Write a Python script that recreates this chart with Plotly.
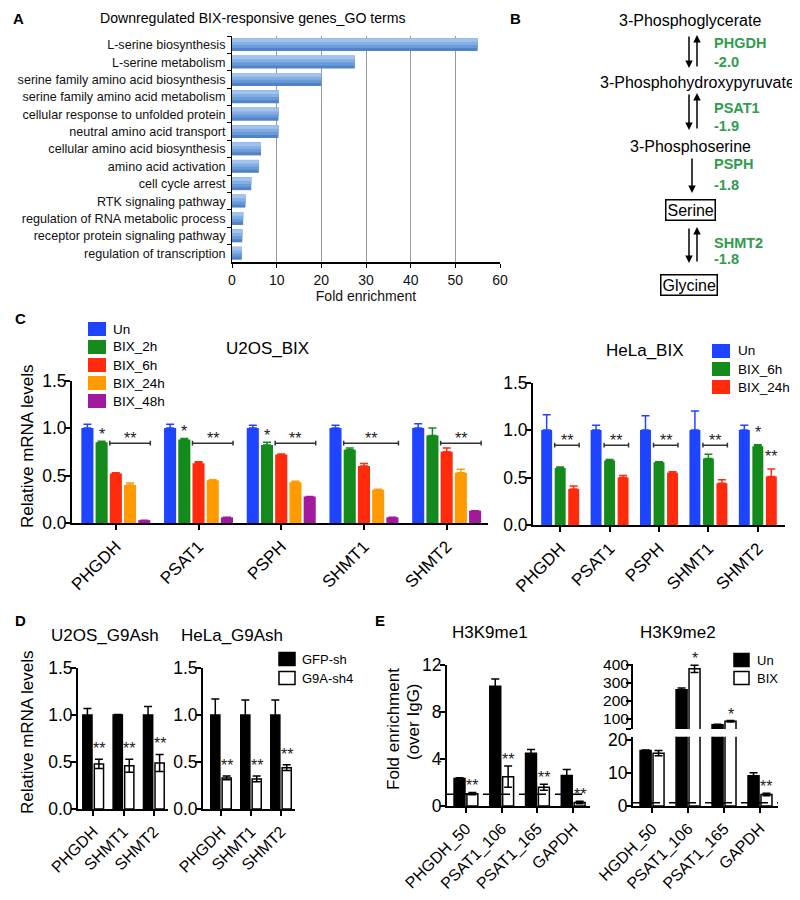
import plotly.graph_objects as go

# page body has an 8px margin: map reference pixels to figure fractions
OFF = 8
W, H = 800 - OFF, 900 - OFF
FONT = "Liberation Sans, Arial, Helvetica, sans-serif"


def X(px):
    return (px - OFF) / W


def Y(py):
    return 1 - (py - OFF) / H


# ---------------- data ----------------
go_terms = ["L-serine biosynthesis", "L-serine metabolism",
            "serine family amino acid biosynthesis",
            "serine family amino acid metabolism",
            "cellular response to unfolded protein",
            "neutral amino acid transport", "cellular amino acid biosynthesis",
            "amino acid activation", "cell cycle arrest", "RTK signaling pathway",
            "regulation of RNA metabolic process",
            "receptor protein signaling pathway", "regulation of transcription"]
go_fold = [55.0, 27.5, 20.0, 10.5, 10.4, 10.4, 6.5, 6.0, 4.3, 3.0, 2.5, 2.3, 2.2]

genes_c = ["PHGDH", "PSAT1", "PSPH", "SHMT1", "SHMT2"]
u2os_series = ["Un", "BIX_2h", "BIX_6h", "BIX_24h", "BIX_48h"]
u2os_vals = [
    [1.00, 1.00, 1.00, 1.00, 1.00],
    [0.85, 0.88, 0.82, 0.77, 0.92],
    [0.52, 0.63, 0.72, 0.60, 0.75],
    [0.40, 0.45, 0.43, 0.35, 0.53],
    [0.03, 0.06, 0.28, 0.06, 0.13],
]
u2os_err = [
    [0.04, 0.04, 0.03, 0.03, 0.045],
    [0.01, 0.01, 0.03, 0.02, 0.08],
    [0.01, 0.015, 0.005, 0.025, 0.04],
    [0.02, 0.005, 0.01, 0.005, 0.035],
    [0.0, 0.0, 0.0, 0.0, 0.0],
]
hela_series = ["Un", "BIX_6h", "BIX_24h"]
hela_vals = [
    [1.00, 1.00, 1.00, 1.00, 1.00],
    [0.60, 0.68, 0.66, 0.70, 0.83],
    [0.38, 0.50, 0.55, 0.44, 0.51],
]
hela_err = [
    [0.16, 0.05, 0.15, 0.20, 0.05],
    [0.01, 0.01, 0.005, 0.045, 0.015],
    [0.03, 0.02, 0.01, 0.035, 0.08],
]

genes_d = ["PHGDH", "SHMT1", "SHMT2"]
d_series = ["GFP-sh", "G9A-sh4"]
d_u2os_vals = [[1.0, 1.0, 1.0], [0.48, 0.46, 0.49]]
d_u2os_err = [[0.07, 0.005, 0.09], [0.05, 0.07, 0.09]]
d_hela_vals = [[1.0, 1.0, 1.0], [0.33, 0.32, 0.44]]
d_hela_err = [[0.17, 0.16, 0.16], [0.02, 0.03, 0.03]]

e_me1_cats = ["PHGDH_50", "PSAT1_106", "PSAT1_165", "GAPDH"]
e_me2_cats = ["HGDH_50", "PSAT1_106", "PSAT1_165", "GAPDH"]
e_series = ["Un", "BIX"]
me1_vals = [[2.35, 10.2, 4.5, 2.6], [1.05, 2.5, 1.6, 0.3]]
me1_err = [[0.05, 0.6, 0.3, 0.5], [0.1, 0.9, 0.25, 0.1]]
me2_vals = [[16.8, 262, 68, 9.2], [16.0, 378, 87, 3.5]]
me2_err = [[0.2, 10, 2, 0.9], [0.8, 20, 4, 0.4]]

# significance marks: (category index, series index, text)
u2os_stars = [(0, 1, "*"), (1, 1, "*"), (2, 1, "*")]
u2os_brackets = [(0, 2, 4, "**"), (1, 2, 4, "**"), (2, 2, 4, "**"),
                 (3, 1, 4, "**"), (4, 2, 4, "**")]
hela_stars = [(4, 1, "*"), (4, 2, "**")]
hela_brackets = [(0, 1, 2, "**"), (1, 1, 2, "**"), (2, 1, 2, "**"), (3, 1, 2, "**")]
d_stars = [(0, 1, "**"), (1, 1, "**"), (2, 1, "**")]
me1_stars = [(0, 1, "**"), (1, 1, "**"), (2, 1, "**"), (3, 1, "**")]
me2_stars_up = [(1, 1, "*"), (2, 1, "*")]
me2_stars_low = [(3, 1, "**")]

u2os_colors = ["#1f44ff", "#14891c", "#ff2b0c", "#ff9b00", "#a1199c"]
hela_colors = ["#1f44ff", "#14891c", "#ff2b0c"]
bw_fill = ["black", "white"]
go_shades = ["#5283c6", "#6a9bd9", "#84aee4", "#a2c3ed"]

fig = go.Figure()

# ---------------- Panel A (bars with a top-lit shading) ----------------
BAR_W = 0.74
for k, shade in enumerate(go_shades):
    wk = BAR_W * (1 - 0.24 * k)
    fig.add_trace(go.Bar(y=go_terms, x=go_fold, orientation="h", width=wk,
                         offset=-BAR_W / 2,
                         marker=dict(color=shade, line=dict(width=0)),
                         xaxis="x", yaxis="y", showlegend=False,
                         hoverinfo="x+y" if k == 0 else "skip"))


def grouped(ax, cats, series, vals, errs, fills, lines, errc, gw, frac, symmetric, lw):
    n = len(series)
    slot = gw / n
    bw = slot * frac
    offs = []
    for i in range(n):
        off = -gw / 2 + i * slot + (slot - bw) / 2
        offs.append(off)
        e = dict(type="data", array=errs[i], color=errc[i], thickness=1.5, width=4)
        if not symmetric:
            e["symmetric"] = False
            e["arrayminus"] = [0] * len(cats)
        fig.add_trace(go.Bar(
            x=cats, y=vals[i], name=series[i], offset=off, width=bw,
            marker=dict(color=fills[i], line=dict(color=lines[i], width=lw)),
            error_y=e, xaxis="x" + ax, yaxis="y" + ax, showlegend=False))
    return offs, bw


def star(ax, ci, offs, bw, si, yv, text, yshift=-4, size=16):
    fig.add_annotation(x=ci + offs[si] + bw / 2, y=yv, xref="x" + ax, yref="y" + ax,
                       text=text, showarrow=False, yanchor="bottom", yshift=yshift,
                       font=dict(family=FONT, size=size, color="#222"))


def bracket(ax, ci, offs, bw, s0, s1, yb, text, tick):
    x0 = ci + offs[s0]
    x1 = ci + offs[s1] + bw
    ln = dict(color="#333", width=1.5)
    fig.add_shape(type="line", x0=x0, x1=x1, y0=yb, y1=yb, xref="x" + ax, yref="y" + ax, line=ln)
    for xx in (x0, x1):
        fig.add_shape(type="line", x0=xx, x1=xx, y0=yb - tick, y1=yb + tick,
                      xref="x" + ax, yref="y" + ax, line=ln)
    fig.add_annotation(x=(x0 + x1) / 2, y=yb, xref="x" + ax, yref="y" + ax, text=text,
                       showarrow=False, yanchor="bottom", yshift=-6,
                       font=dict(family=FONT, size=16, color="#222"))


# ---------------- Panel C ----------------
offs2, bw2 = grouped("2", genes_c, u2os_series, u2os_vals, u2os_err, u2os_colors,
                     u2os_colors, u2os_colors, 0.86, 0.85, False, 0)
for ci, si, t in u2os_stars:
    star("2", ci, offs2, bw2, si, u2os_vals[si][ci] + u2os_err[si][ci], t)
for ci, s0, s1, t in u2os_brackets:
    bracket("2", ci, offs2, bw2, s0, s1, 0.84, t, 0.025)

offs3, bw3 = grouped("3", genes_c, hela_series, hela_vals, hela_err, hela_colors,
                     hela_colors, hela_colors, 0.82, 0.81, False, 0)
for ci, si, t in hela_stars:
    star("3", ci, offs3, bw3, si, hela_vals[si][ci] + hela_err[si][ci], t, yshift=2)
for ci, s0, s1, t in hela_brackets:
    bracket("3", ci, offs3, bw3, s0, s1, 0.84, t, 0.025)

# ---------------- Panel D ----------------
BK = ["black", "black"]
offs4, bw4 = grouped("4", genes_d, d_series, d_u2os_vals, d_u2os_err, bw_fill,
                     BK, BK, 0.76, 0.8, True, 1.5)
for ci, si, t in d_stars:
    star("4", ci, offs4, bw4, si, d_u2os_vals[si][ci] + d_u2os_err[si][ci], t, yshift=0)
offs5, bw5 = grouped("5", genes_d, d_series, d_hela_vals, d_hela_err, bw_fill,
                     BK, BK, 0.76, 0.8, True, 1.5)
for ci, si, t in d_stars:
    star("5", ci, offs5, bw5, si, d_hela_vals[si][ci] + d_hela_err[si][ci], t, yshift=0)

# ---------------- Panel E ----------------
offs6, bw6 = grouped("6", e_me1_cats, e_series, me1_vals, me1_err, bw_fill,
                     BK, BK, 0.72, 0.85, True, 1.5)
for ci, si, t in me1_stars:
    star("6", ci, offs6, bw6, si, me1_vals[si][ci] + me1_err[si][ci], t)
offs7, bw7 = grouped("7", e_me2_cats, e_series, me2_vals, me2_err, bw_fill,
                     BK, BK, 0.72, 0.85, True, 1.5)
for ci, si, t in me2_stars_low:
    star("7", ci, offs7, bw7, si, me2_vals[si][ci] + me2_err[si][ci], t)
offs8, bw8 = grouped("8", e_me2_cats, e_series, me2_vals, me2_err, bw_fill,
                     BK, BK, 0.72, 0.85, True, 1.5)
for ci, si, t in me2_stars_up:
    star("8", ci, offs8, bw8, si, me2_vals[si][ci] + me2_err[si][ci], t)

for ax in ("6", "7"):
    fig.add_shape(type="line", xref="x" + ax + " domain", yref="y" + ax, x0=0, x1=1,
                  y0=1, y1=1, line=dict(color="black", width=1.5, dash="dash"))

# ---------------- axes ----------------
AX = dict(showline=True, linecolor="black", linewidth=2, ticks="outside", ticklen=5,
          tickwidth=2, tickcolor="black", showgrid=False, zeroline=False, automargin=False,
          tickfont=dict(family=FONT, size=17.5, color="black"))
AY = dict(AX, ticklabelstandoff=-5)
XC = dict(AX, type="category", tickangle=-45, tickfont=dict(family=FONT, size=17, color="black"))

fig.update_layout(
    xaxis=dict(domain=[X(232), X(500)], anchor="y", range=[0, 60], dtick=10,
               showline=True, linecolor="black", linewidth=1.5, ticks="outside", ticklen=4,
               tickcolor="black", showgrid=True, gridcolor="#9a9a9a", gridwidth=1,
               zeroline=False, automargin=False,
               tickfont=dict(family=FONT, size=14, color="#111"),
               title=dict(text="Fold enrichment", font=dict(family=FONT, size=14, color="#111"),
                          standoff=4)),
    yaxis=dict(domain=[Y(262), Y(36)], anchor="x", type="category", range=[12.5, -0.5],
               showline=True, linecolor="black", linewidth=1, ticks="outside", ticklen=4,
               tickson="boundaries", tickcolor="black", showgrid=False, automargin=False,
               ticklabelstandoff=3,
               tickfont=dict(family=FONT, size=12.6, color="#111")),
    xaxis2=dict(XC, domain=[X(72), X(488)], anchor="y2", range=[-0.53, 4.5]),
    yaxis2=dict(AY, domain=[Y(523), Y(380.5)], anchor="x2", range=[0, 1.5],
                tickvals=[0, 0.5, 1.0, 1.5], tickformat=".1f"),
    xaxis3=dict(XC, domain=[X(533), X(785)], anchor="y3", range=[-0.55, 4.55]),
    yaxis3=dict(AY, domain=[Y(525), Y(382.5)], anchor="x3", range=[0, 1.5],
                tickvals=[0, 0.5, 1.0, 1.5], tickformat=".1f"),
    xaxis4=dict(XC, domain=[X(78), X(167.5)], anchor="y4", range=[-0.5, 2.45],
                tickfont=dict(family=FONT, size=16, color="black")),
    yaxis4=dict(AY, domain=[Y(809), Y(668)], anchor="x4", range=[0, 1.5],
                tickvals=[0, 0.5, 1.0, 1.5], tickformat=".1f"),
    xaxis5=dict(XC, domain=[X(203), X(294.5)], anchor="y5", range=[-0.6, 2.45],
                tickfont=dict(family=FONT, size=16, color="black")),
    yaxis5=dict(AY, domain=[Y(809), Y(668)], anchor="x5", range=[0, 1.5],
                tickvals=[0, 0.5, 1.0, 1.5], tickformat=".1f"),
    xaxis6=dict(XC, domain=[X(447), X(590)], anchor="y6", range=[-0.53, 3.47],
                tickfont=dict(family=FONT, size=16, color="black")),
    yaxis6=dict(AY, domain=[Y(806), Y(665)], anchor="x6", range=[0, 12],
                tickvals=[0, 4, 8, 12]),
    xaxis7=dict(XC, domain=[X(633), X(778)], anchor="y7", range=[-0.53, 3.5],
                tickfont=dict(family=FONT, size=16, color="black")),
    yaxis7=dict(AY, domain=[Y(806), Y(736.7)], anchor="x7", range=[0, 21],
                tickvals=[0, 10, 20]),
    xaxis8=dict(domain=[X(633), X(778)], anchor="y8", range=[-0.53, 3.5], type="category",
                visible=False),
    yaxis8=dict(AY, domain=[Y(729), Y(664)], anchor="x8", range=[44, 405],
                ticklabelstandoff=-6,
                tickvals=[44, 100, 200, 300, 400], ticktext=["", "100", "200", "300", "400"],
                tickfont=dict(family=FONT, size=15.5, color="black")),
    barmode="overlay",
    showlegend=False,
    width=W, height=H,
    margin=dict(l=0, r=0, t=0, b=0, autoexpand=False),
    paper_bgcolor="white", plot_bgcolor="white",
    font=dict(family=FONT, color="black"),
)


def text(xp, yp, t, size=16, color="black", bold=False, xanchor="center", angle=0,
         box=False):
    kw = {}
    if box:
        kw = dict(bordercolor="black", borderwidth=1.5, borderpad=1)
    fig.add_annotation(x=X(xp), y=Y(yp), xref="paper", yref="paper",
                       text=("<b>%s</b>" % t) if bold else t, showarrow=False,
                       xanchor=xanchor, yanchor="middle", textangle=angle,
                       font=dict(family=FONT, size=size, color=color), **kw)


# ---------------- legends (swatch + label) ----------------
def legend(names, fills, x0, x1, ycs, tx, h=14, size=13.5, outline=None):
    for name, fill, yc in zip(names, fills, ycs):
        fig.add_shape(type="rect", xref="paper", yref="paper",
                      x0=X(x0), x1=X(x1), y0=Y(yc + h / 2), y1=Y(yc - h / 2),
                      fillcolor=fill,
                      line=dict(color=outline if outline else fill, width=1.5 if outline else 0))
        text(tx, yc, name, size=size, xanchor="left")


legend(u2os_series, u2os_colors, 88, 106, [329, 347, 365, 383, 401], 111)
legend(hela_series, hela_colors, 712, 730, [351, 369, 387], 736)
legend(d_series, bw_fill, 279, 295, [659, 678], 300, h=13, size=13, outline="black")
legend(e_series, bw_fill, 734, 749, [660, 678], 755, h=13, size=13, outline="black")

# titles
text(253, 18, "Downregulated BIX-responsive genes_GO terms", size=14.1)
text(267, 348, "U2OS_BIX", size=17)
text(645, 350, "HeLa_BIX", size=17)
text(105, 635, "U2OS_G9Ash", size=17)
text(232, 635, "HeLa_G9Ash", size=17)
text(490, 632, "H3K9me1", size=17)
text(678, 632, "H3K9me2", size=17)
text(27, 447, "Relative mRNA levels", size=17, angle=-90)
text(27, 733, "Relative mRNA levels", size=17, angle=-90)
text(393, 729, "Fold enrichment", size=17, angle=-90)
text(413, 722, "(over IgG)", size=17, angle=-90)

# panel letters
for lx, ly, lt in [(18, 18, "A"), (515, 18, "B"), (20, 318, "C"), (20, 620, "D"), (380, 620, "E")]:
    text(lx, ly, lt, size=15, bold=True)

# ---------------- Panel B (pathway) ----------------
GREEN = "#2e9d4e"
text(690, 20, "3-Phosphoglycerate")
text(697, 82, "3-Phosphohydroxypyruvate")
text(690, 146, "3-Phosphoserine")
text(690, 210, "Serine", box=True)
text(689, 285, "Glycine", box=True)
for yp, t in [(43, "PHGDH"), (62, "-2.0"), (108, "PSAT1"), (126, "-1.9"),
              (164, "PSPH"), (185, "-1.8"), (243, "SHMT2"), (259, "-1.8")]:
    text(712, yp, t, size=14.5, color=GREEN, bold=True, xanchor="left")


def arrow(xp, y_tail, y_head):
    fig.add_annotation(x=X(xp), y=Y(y_head), xref="paper", yref="paper", text="",
                       showarrow=True, ax=0, ay=y_tail - y_head, arrowhead=2,
                       arrowsize=1, arrowwidth=1.5, arrowcolor="black", standoff=0,
                       startstandoff=0)


for top, bot in [(35, 68), (93, 130), (227, 263)]:
    arrow(689, top, bot)
    arrow(697, bot, top)
arrow(692, 157, 193)

fig.write_html("out.html")
